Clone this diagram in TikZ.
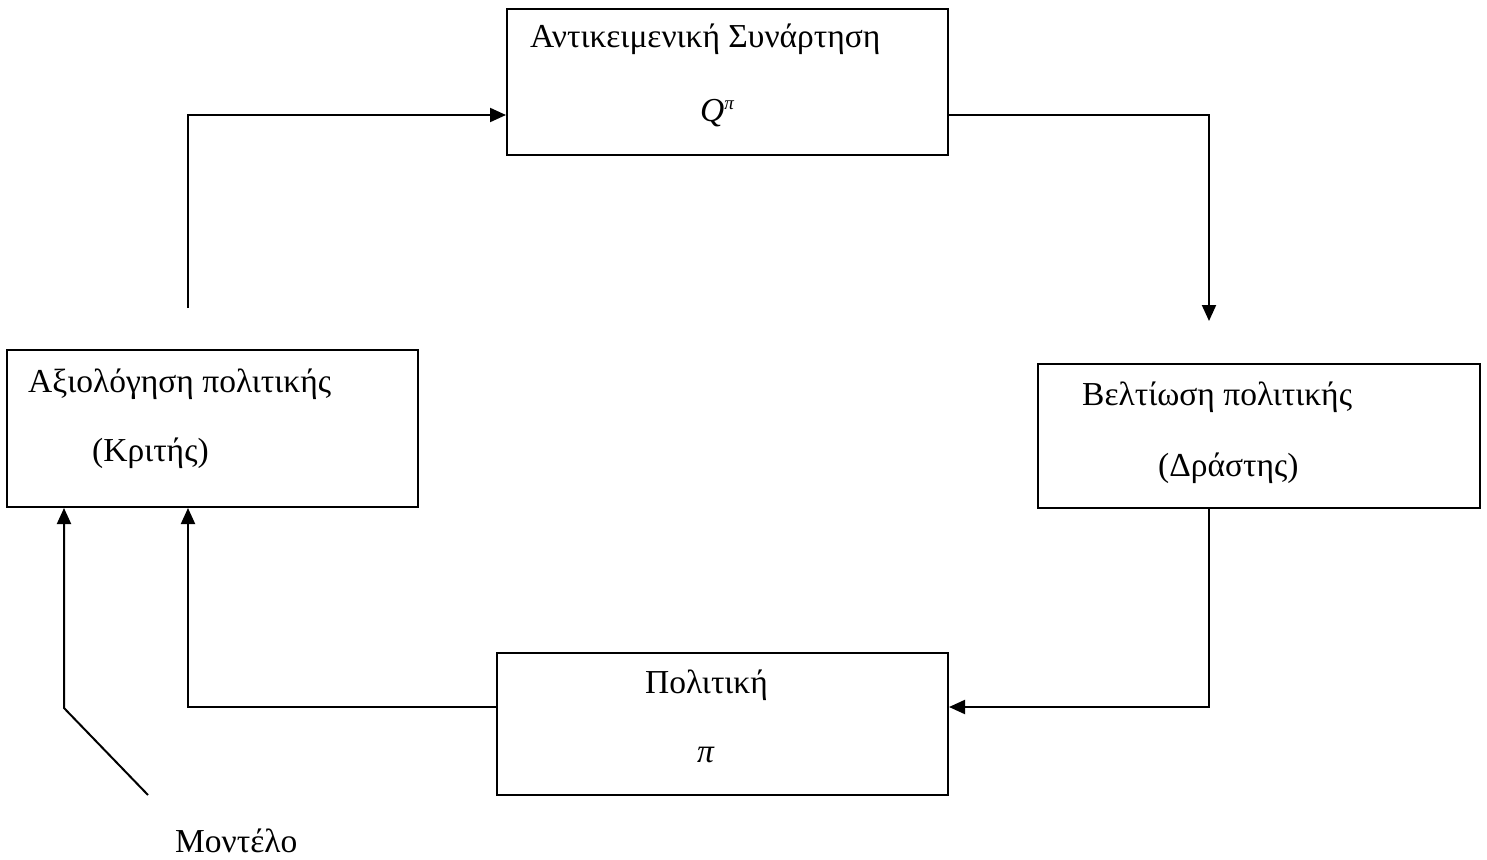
\documentclass[tikz,border=0pt]{standalone}
\usepackage{fontspec}
\setmainfont{Liberation Serif}
\usetikzlibrary{arrows.meta}
\begin{document}
\begin{tikzpicture}[x=1pt,y=-1pt,
  boxst/.style={draw,line width=2pt,inner sep=0pt},
  arr/.style={line width=2pt,-{Triangle[length=16pt,width=14pt]}},
  lbl/.style={anchor=base west,inner sep=0pt,font=\fontsize{33.5}{38}\selectfont}]
\useasboundingbox[fill=white] (0,0) rectangle (1487,859);
% boxes
\node[boxst,minimum width=441pt,minimum height=146pt] (top) at (727.5,82) {};
\node[boxst,minimum width=411pt,minimum height=157pt] (left) at (212.5,428.5) {};
\node[boxst,minimum width=442pt,minimum height=144pt] (right) at (1259,436) {};
\node[boxst,minimum width=451pt,minimum height=142pt] (bot) at (722.5,724) {};
% texts
\node[lbl] (t1) at (530,48) {Αντικειμενική Συνάρτηση};
\node[lbl] (t2) at (700,121) {\textit{Q}\raisebox{12pt}{\fontsize{19}{22}\selectfont\textit{π}}};
\node[lbl] (l1) at (28,392) {Αξιολόγηση πολιτικής};
\node[lbl] (l2) at (92,461) {(Κριτής)};
\node[lbl] (r1) at (1082,405) {Βελτίωση πολιτικής};
\node[lbl] (r2) at (1158,476) {(Δράστης)};
\node[lbl] (b1) at (645,693) {Πολιτική};
\node[lbl] (b2) at (697,762) {\textit{π}};
\node[lbl] (m) at (175,852) {Μοντέλο};
% helper coordinates
\coordinate (y115) at (0,115);
\coordinate (y707) at (0,707);
\coordinate (x188) at (188,0);
\coordinate (x1209) at (1209,0);
\coordinate (x64) at (64,0);
\coordinate (s1) at (188,308);
\coordinate (e1) at (1209,321);
\coordinate (m1) at (148,795);
\coordinate (m2) at (64,708);
% connectors
\draw[arr] (s1) |- (top.west |- y115);
\draw[arr] (top.east |- y115) -| (e1);
\draw[arr] (right.south -| x1209) |- (bot.east |- y707);
\draw[arr] (bot.west |- y707) -| (left.south -| x188);
\draw[arr] (m1) -- (m2) -- (left.south -| x64);
\end{tikzpicture}
\end{document}
